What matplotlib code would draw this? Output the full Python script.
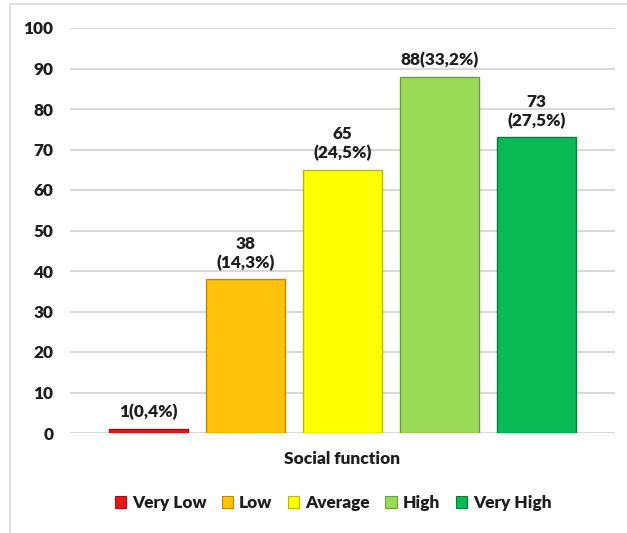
import matplotlib.pyplot as plt
from matplotlib.patches import Patch, Rectangle

plt.rcParams["font.family"] = ["Lato", "DejaVu Sans"]

categories = ["Very Low", "Low", "Average", "High", "Very High"]
counts = [1, 38, 65, 88, 73]
percents = ["0,4", "14,3", "24,5", "33,2", "27,5"]
label_breaks = ["", "\n", "\n", "", "\n"]
colors = ["#E8151B", "#FFC20A", "#FFFF00", "#9BDB58", "#0ABB55"]
edges = ["#A80E12", "#B98A00", "#B8B800", "#6E9E3C", "#05803A"]
yticks = [0, 10, 20, 30, 40, 50, 60, 70, 80, 90, 100]

text_color = "#1E1E1E"
fs = 12.4
fw = 800

fig = plt.figure(figsize=(6.27, 5.33), dpi=100)
fig.patches.append(Rectangle((10 / 627, -0.1), 1.2, 1.1 - 4 / 533,
                             transform=fig.transFigure, fill=False,
                             edgecolor="#D9D9D9", linewidth=1.2))

ax = fig.add_axes([70 / 627, 1 - 433 / 533, 545 / 627, 405 / 533])

x = list(range(len(categories)))
bars = ax.bar(x, counts, width=0.81, color=colors, edgecolor=edges,
              linewidth=1.0, zorder=3)

# value + share labels above each bar
for xi, v, p, sep in zip(x, counts, percents, label_breaks):
    ax.annotate(f"{v}{sep}({p}%)", xy=(xi, v), xytext=(0, 6),
                textcoords="offset points", ha="center", va="bottom",
                fontsize=fs, fontweight=fw, color=text_color,
                linespacing=1.2)

ax.set_xlim(-0.805, 4.805)
ax.set_ylim(0, 100)
ax.set_yticks(yticks)
ax.set_xticks([])
ax.yaxis.grid(True, color="#D9D9D9", linewidth=1.5, zorder=0)
ax.set_axisbelow(True)
for s in ax.spines.values():
    s.set_visible(False)
ax.tick_params(axis="y", length=0, pad=12, labelsize=fs, labelcolor=text_color)
for lbl in ax.get_yticklabels():
    lbl.set_fontweight(fw)

ax.set_xlabel("Social function", fontsize=fs, fontweight=fw,
              color=text_color, labelpad=13)

handles = [Patch(facecolor=c, edgecolor=e, linewidth=0.8)
           for c, e in zip(colors, edges)]
fig.legend(handles, categories, loc="center", bbox_to_anchor=(333 / 627, 1 - 503 / 533),
           ncol=5, frameon=False, handlelength=0.65, handleheight=0.65,
           handletextpad=0.35, columnspacing=0.9, labelcolor=text_color,
           prop={"size": fs, "weight": fw})

fig.savefig("out.png", dpi=100)
